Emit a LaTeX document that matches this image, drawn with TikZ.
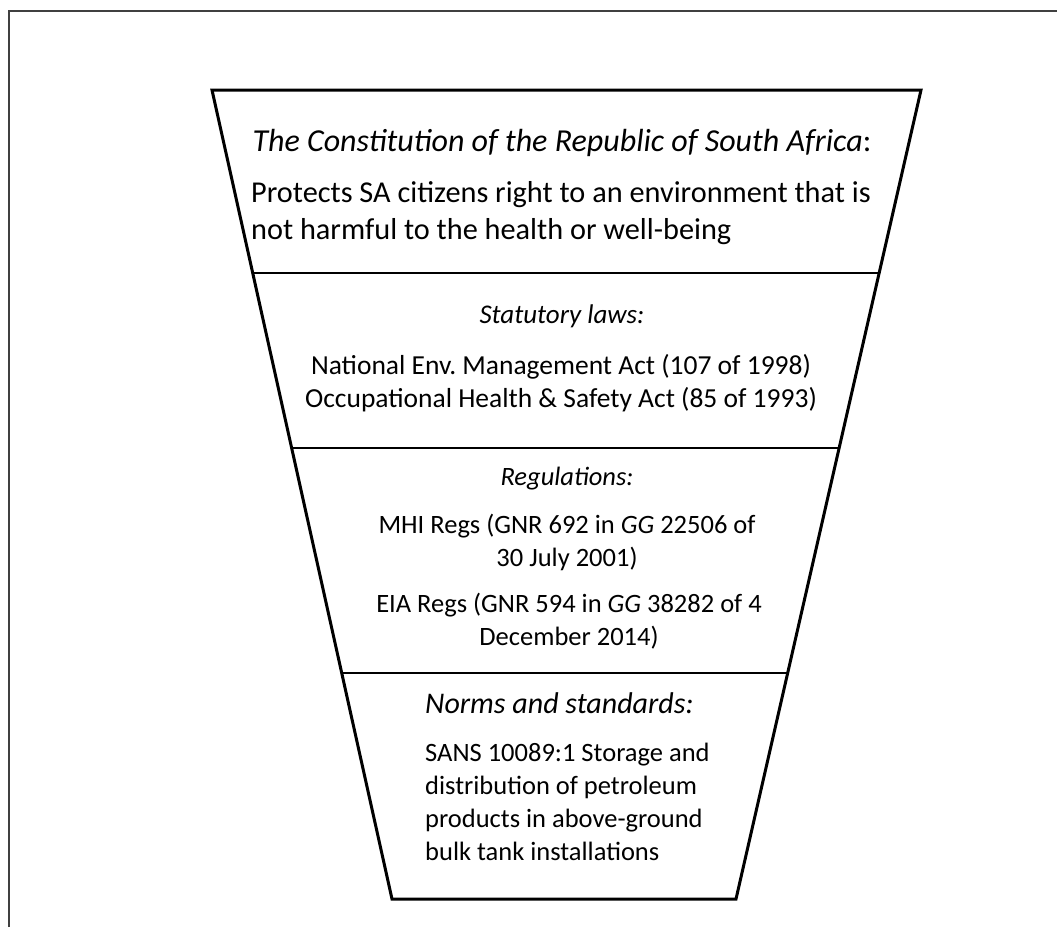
\documentclass[tikz,border=0pt]{standalone}
\usepackage{fontspec}
\setmainfont{Carlito}
\usetikzlibrary{calc}
\frenchspacing
\begin{document}
\begin{tikzpicture}[x=1pt,y=-1pt,
  frame/.style={draw=black!75, line width=1.1pt},
  funnel/.style={draw=black, line width=3pt, line join=miter},
  divider/.style={draw=black, line width=2pt},
  big/.style={inner sep=0pt, font=\fontsize{30.3}{36.5}\selectfont},
  bighead/.style={inner sep=0pt, font=\fontsize{32}{38}\selectfont\itshape},
  mid/.style={inner sep=0pt, font=\fontsize{27.5}{33}\selectfont},
  midhead/.style={inner sep=0pt, font=\fontsize{27}{33}\selectfont\itshape},
  txt/.style={inner sep=0pt, font=\fontsize{26.5}{33}\selectfont},
  head/.style={inner sep=0pt, font=\fontsize{26.5}{33}\selectfont\itshape},
  lowhead/.style={inner sep=0pt, font=\fontsize{30}{36}\selectfont\itshape},
]
\useasboundingbox (0,0) rectangle (1057,927);

% open page frame (top and left rules only)
\draw[frame] (9,927) -- (9,11) -- (1057,11);

% funnel outline
\coordinate (ftl) at (212,90);
\coordinate (ftr) at (921,90);
\coordinate (fbr) at (736,899);
\coordinate (fbl) at (392,899);
\draw[funnel] (ftl) -- (ftr) -- (fbr) -- (fbl) -- cycle;

% horizontal dividers between the levels
\foreach \n/\t in {A/0.2262,B/0.4425,C/0.7206}{
  \coordinate (div\n west) at ($(ftl)!\t!(fbl)$);
  \coordinate (div\n east) at ($(ftr)!\t!(fbr)$);
  \draw[divider] (div\n west) -- (div\n east);
}

% level 1 (multi-line nodes are placed by the baseline of their last line)
\node[bighead, anchor=base] (h1) at (562,151) {The Constitution of the Republic of South Africa\upshape{:}};
\node[big, anchor=base west, align=left] (b1) at (251,239)
  {Protects SA citizens right to an environment that is\\not harmful to the health or well-being};

% level 2
\node[midhead, anchor=base] (h2) at (562,323) {Statutory laws:};
\node[mid, anchor=base, align=center] (b2) at (561,407)
  {National Env. Management Act (107 of 1998)\\Occupational Health \& Safety Act (85 of 1993)};

% level 3
\node[head, anchor=base] (h3) at (567,485) {Regulations:};
\node[txt, anchor=base, align=center] (b3) at (567,566)
  {MHI Regs (GNR 692 in \textit{GG} 22506 of\\30 July 2001)};
\node[txt, anchor=base, align=center] (b4) at (569,645)
  {EIA Regs (GNR 594 in \textit{GG} 38282 of 4\\December 2014)};

% level 4
\node[lowhead, anchor=base west] (h4) at (425,713) {Norms and standards:};
\node[txt, anchor=base west, align=left] (b5) at (425,860)
  {SANS 10089:1 Storage and\\distribution of petroleum\\products in above-ground\\bulk tank installations};
\end{tikzpicture}
\end{document}
